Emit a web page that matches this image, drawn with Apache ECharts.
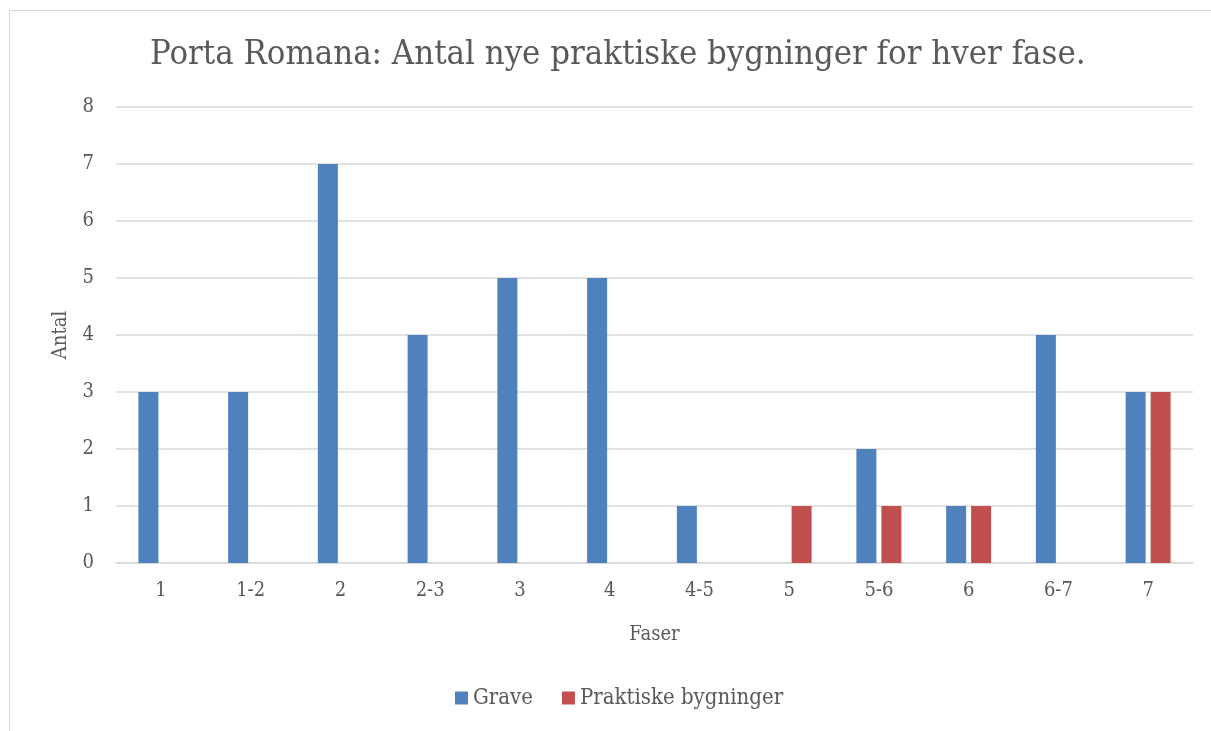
<!DOCTYPE html>
<html>
<head>
<meta charset="utf-8">
<script src="https://cdn.jsdelivr.net/npm/echarts@6/dist/echarts.min.js"></script>
<style>
  html, body { margin: 0; padding: 0; background: #fff; }
  #frame { position: absolute; left: 9px; top: 10px; width: 1220px; height: 740px; border: 1px solid #d9d9d9; box-sizing: border-box; }
  #chart { position: absolute; left: 0; top: 0; width: 1211px; height: 731px; }
</style>
</head>
<body>
<div id="frame"></div>
<div id="chart"></div>
<script>
var categories = ['1', '1-2', '2', '2-3', '3', '4', '4-5', '5', '5-6', '6', '6-7', '7']
var grave = [3, 3, 7, 4, 5, 5, 1, 0, 2, 1, 4, 3]
var praktiske = [0, 0, 0, 0, 0, 0, 0, 1, 1, 1, 0, 3]
var yTicks = { min: 0, max: 8, interval: 1 }

var font = "'DejaVu Serif Condensed', 'DejaVu Serif', serif"
var textColor = '#595959'

var chart = echarts.init(document.getElementById('chart'))
var option = {
  animation: false,
  textStyle: { fontFamily: font },
  title: {
    text: 'Porta Romana: Antal nye praktiske bygninger for hver fase.',
    left: 145,
    top: 33,
    textStyle: { fontFamily: font, fontSize: 34.4, fontWeight: 'normal', color: textColor }
  },
  color: ['#4F81BD', '#C0504D'],
  legend: {
    bottom: 17,
    left: 450,
    itemWidth: 13,
    itemHeight: 13,
    itemGap: 29,
    icon: 'rect',
    textStyle: { fontFamily: font, fontSize: 22, color: textColor },
    data: ['Grave', 'Praktiske bygninger']
  },
  grid: {
    left: 116,
    right: 18,
    top: 107,
    bottom: 168
  },
  xAxis: {
    type: 'category',
    data: categories,
    name: 'Faser',
    nameLocation: 'middle',
    nameGap: 62,
    nameTextStyle: { fontFamily: font, fontSize: 20, color: textColor },
    axisLine: { show: true, lineStyle: { color: '#d9d9d9', width: 1.5 } },
    axisTick: { show: false },
    axisLabel: { color: textColor, fontSize: 20, fontFamily: font, margin: 18 },
    splitLine: { show: false }
  },
  yAxis: {
    type: 'value',
    min: yTicks.min,
    max: yTicks.max,
    interval: yTicks.interval,
    name: 'Antal',
    nameLocation: 'middle',
    nameGap: 45,
    nameTextStyle: { fontFamily: font, fontSize: 20, color: textColor },
    axisLine: { show: false },
    axisTick: { show: false },
    axisLabel: { color: textColor, fontSize: 20, fontFamily: font, margin: 22 },
    splitLine: { lineStyle: { color: '#d9d9d9', width: 1.5 } }
  },
  series: [
    {
      name: 'Grave',
      type: 'bar',
      barWidth: 20,
      barGap: '25%',
      data: grave
    },
    {
      name: 'Praktiske bygninger',
      type: 'bar',
      barWidth: 20,
      barGap: '25%',
      data: praktiske
    }
  ]
}
chart.setOption(option)
</script>
</body>
</html>
